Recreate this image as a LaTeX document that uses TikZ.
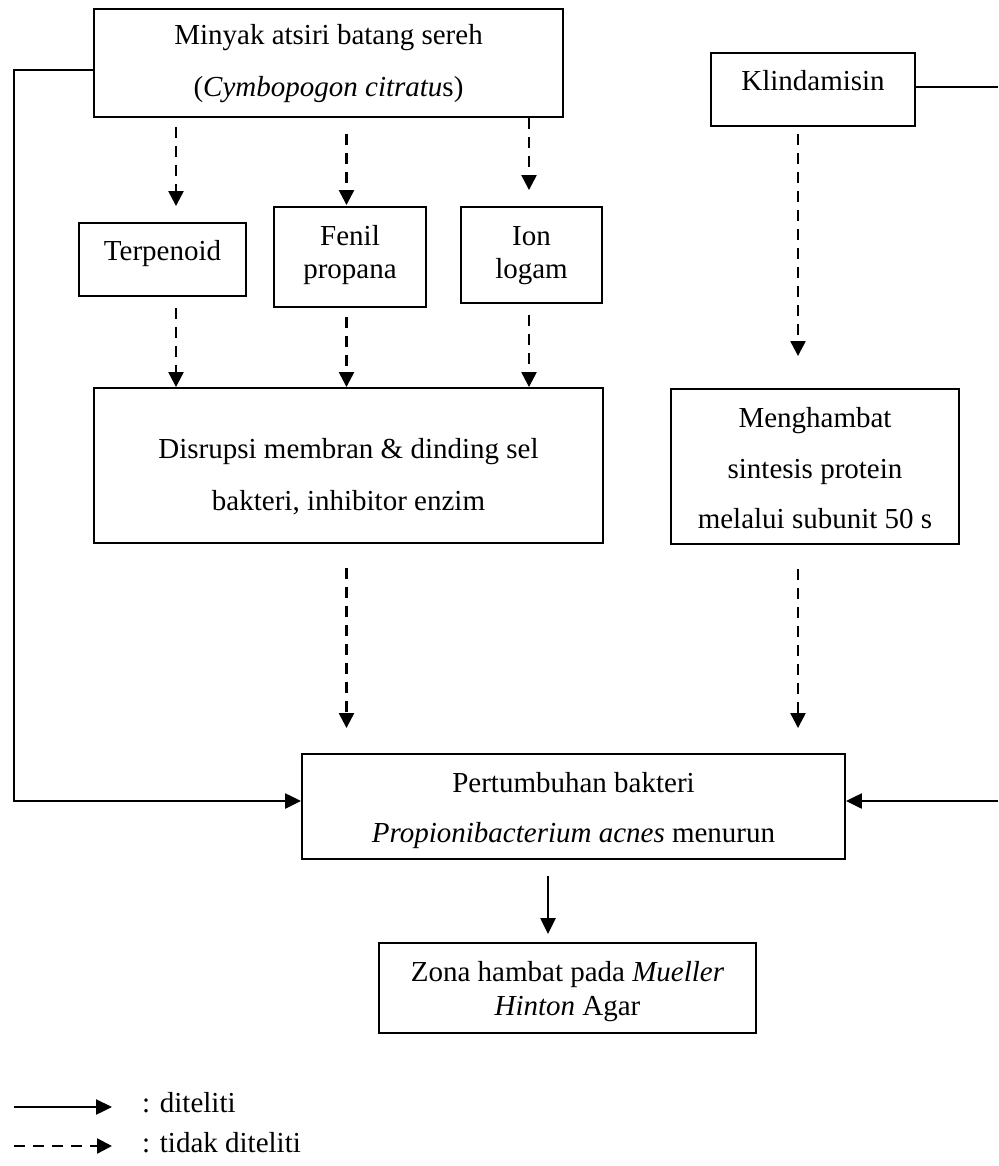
\documentclass[tikz,border=0pt]{standalone}
\usepackage{fontspec}
\setmainfont{Liberation Serif}
\usetikzlibrary{arrows.meta,calc}
\tikzset{
  box/.style={draw=black, line width=1.9pt, inner sep=0pt, fill=white},
  txt/.style={anchor=base, inner sep=0pt},
  conn/.style={line width=2.4pt, draw=black},
  solidarrow/.style={conn, -{Triangle[length=16pt,width=15pt]}},
  dasharrow/.style={conn, dash pattern=on 11pt off 8pt, -{Triangle[length=15pt,width=15pt]}},
}
\begin{document}
\begin{tikzpicture}[x=1pt, y=-1pt, font=\fontsize{29}{34}\selectfont]
\useasboundingbox (0,0) rectangle (998,1166);
\fill[white] (0,0) rectangle (998,1166);

% boxes
\node[box, minimum width=469pt, minimum height=108pt] (minyak) at (328.5,63) {};
\node[box, minimum width=167pt, minimum height=73pt] (terp) at (162.5,259.5) {};
\node[box, minimum width=152pt, minimum height=100pt] (fenil) at (350,257) {};
\node[box, minimum width=141pt, minimum height=96pt] (ion) at (531.5,255) {};
\node[box, minimum width=204pt, minimum height=73pt] (klin) at (813,89.5) {};
\node[box, minimum width=509pt, minimum height=155pt] (disr) at (348.5,465.5) {};
\node[box, minimum width=288pt, minimum height=155pt] (meng) at (815,466.5) {};
\node[box, minimum width=543pt, minimum height=105pt] (pert) at (573.5,806.5) {};
\node[box, minimum width=377pt, minimum height=90pt] (zona) at (567.5,988) {};

% texts
\node[txt] (minyak1) at (328.5,45) {Minyak atsiri batang sereh};
\node[txt] (minyak2) at (328.5,97) {(\textit{Cymbopogon citratu}s)};
\node[txt] (terp1) at (162.5,260) {Terpenoid};
\node[txt] (fenil1) at (350,245) {Fenil};
\node[txt] (fenil2) at (350,278) {propana};
\node[txt] (ion1) at (531.5,245) {Ion};
\node[txt] (ion2) at (531.5,278) {logam};
\node[txt] (klin1) at (813,91) {Klindamisin};
\node[txt] (disr1) at (348.5,458) {Disrupsi membran \& dinding sel};
\node[txt] (disr2) at (348.5,510) {bakteri, inhibitor enzim};
\node[txt] (meng1) at (815,427) {Menghambat};
\node[txt] (meng2) at (815,478) {sintesis protein};
\node[txt] (meng3) at (815,528) {melalui subunit 50 s};
\node[txt] (pert1) at (573.5,792) {Pertumbuhan bakteri};
\node[txt] (pert2) at (573.5,842) {\textit{Propionibacterium acnes} menurun};
\node[txt] (zona1) at (567.5,981) {Zona hambat pada \textit{Mueller}};
\node[txt] (zona2) at (567.5,1015) {\textit{Hinton} Agar};

% column / edge coordinates
\coordinate (c1) at (176,0);
\coordinate (c2) at (346.5,0);
\coordinate (c3) at (529,0);
\coordinate (c4) at (798,0);
\coordinate (c5) at (548,0);
\coordinate (L) at (14,0);
\coordinate (R) at (998,0);

% dashed connectors
\draw[dasharrow] ($(minyak.south -| c1)+(0,9)$) -- ($(terp.north -| c1)+(0,-16)$);
\draw[dasharrow] ($(minyak.south -| c2)+(0,16)$) -- ($(fenil.north -| c2)+(0,-1)$);
\draw[dasharrow] (minyak.south -| c3) -- ($(ion.north -| c3)+(0,-16)$);
\draw[dasharrow] ($(terp.south -| c1)+(0,11)$) -- (disr.north -| c1);
\draw[dasharrow] ($(fenil.south -| c2)+(0,9)$) -- (disr.north -| c2);
\draw[dasharrow] ($(ion.south -| c3)+(0,11)$) -- (disr.north -| c3);
\draw[dasharrow] ($(klin.south -| c4)+(0,7)$) -- ($(meng.north -| c4)+(0,-32)$);
\draw[dasharrow] ($(disr.south -| c2)+(0,24)$) -- ($(pert.north -| c2)+(0,-25)$);
\draw[dasharrow] ($(meng.south -| c4)+(0,24)$) -- ($(pert.north -| c4)+(0,-25)$);

% solid connectors
\draw[solidarrow] ($(pert.south -| c5)+(0,16)$) -- ($(zona.north -| c5)+(0,-8)$);
\draw[solidarrow] ($(minyak.west)+(0,7)$) -| ($(pert.west -| L)+(0,-5.5)$) -- ($(pert.west)+(0,-5.5)$);
\draw[conn] ($(klin.east)+(0,-2.5)$) -- ($(klin.east -| R)+(0,-2.5)$);
\draw[solidarrow] ($(pert.east -| R)+(0,-5.5)$) -- ($(pert.east)+(0,-5.5)$);

% legend
\coordinate (lgA) at (14,1107);
\coordinate (lgB) at (112,1107);
\coordinate (lgC) at (14,1146);
\coordinate (lgD) at (112,1146);
\draw[solidarrow] (lgA) -- (lgB);
\draw[dasharrow] (lgC) -- (lgD);
\node[txt, anchor=base west] (leg1) at (142,1112) {: diteliti};
\node[txt, anchor=base west] (leg2) at (142,1152) {: tidak diteliti};
\end{tikzpicture}
\end{document}
